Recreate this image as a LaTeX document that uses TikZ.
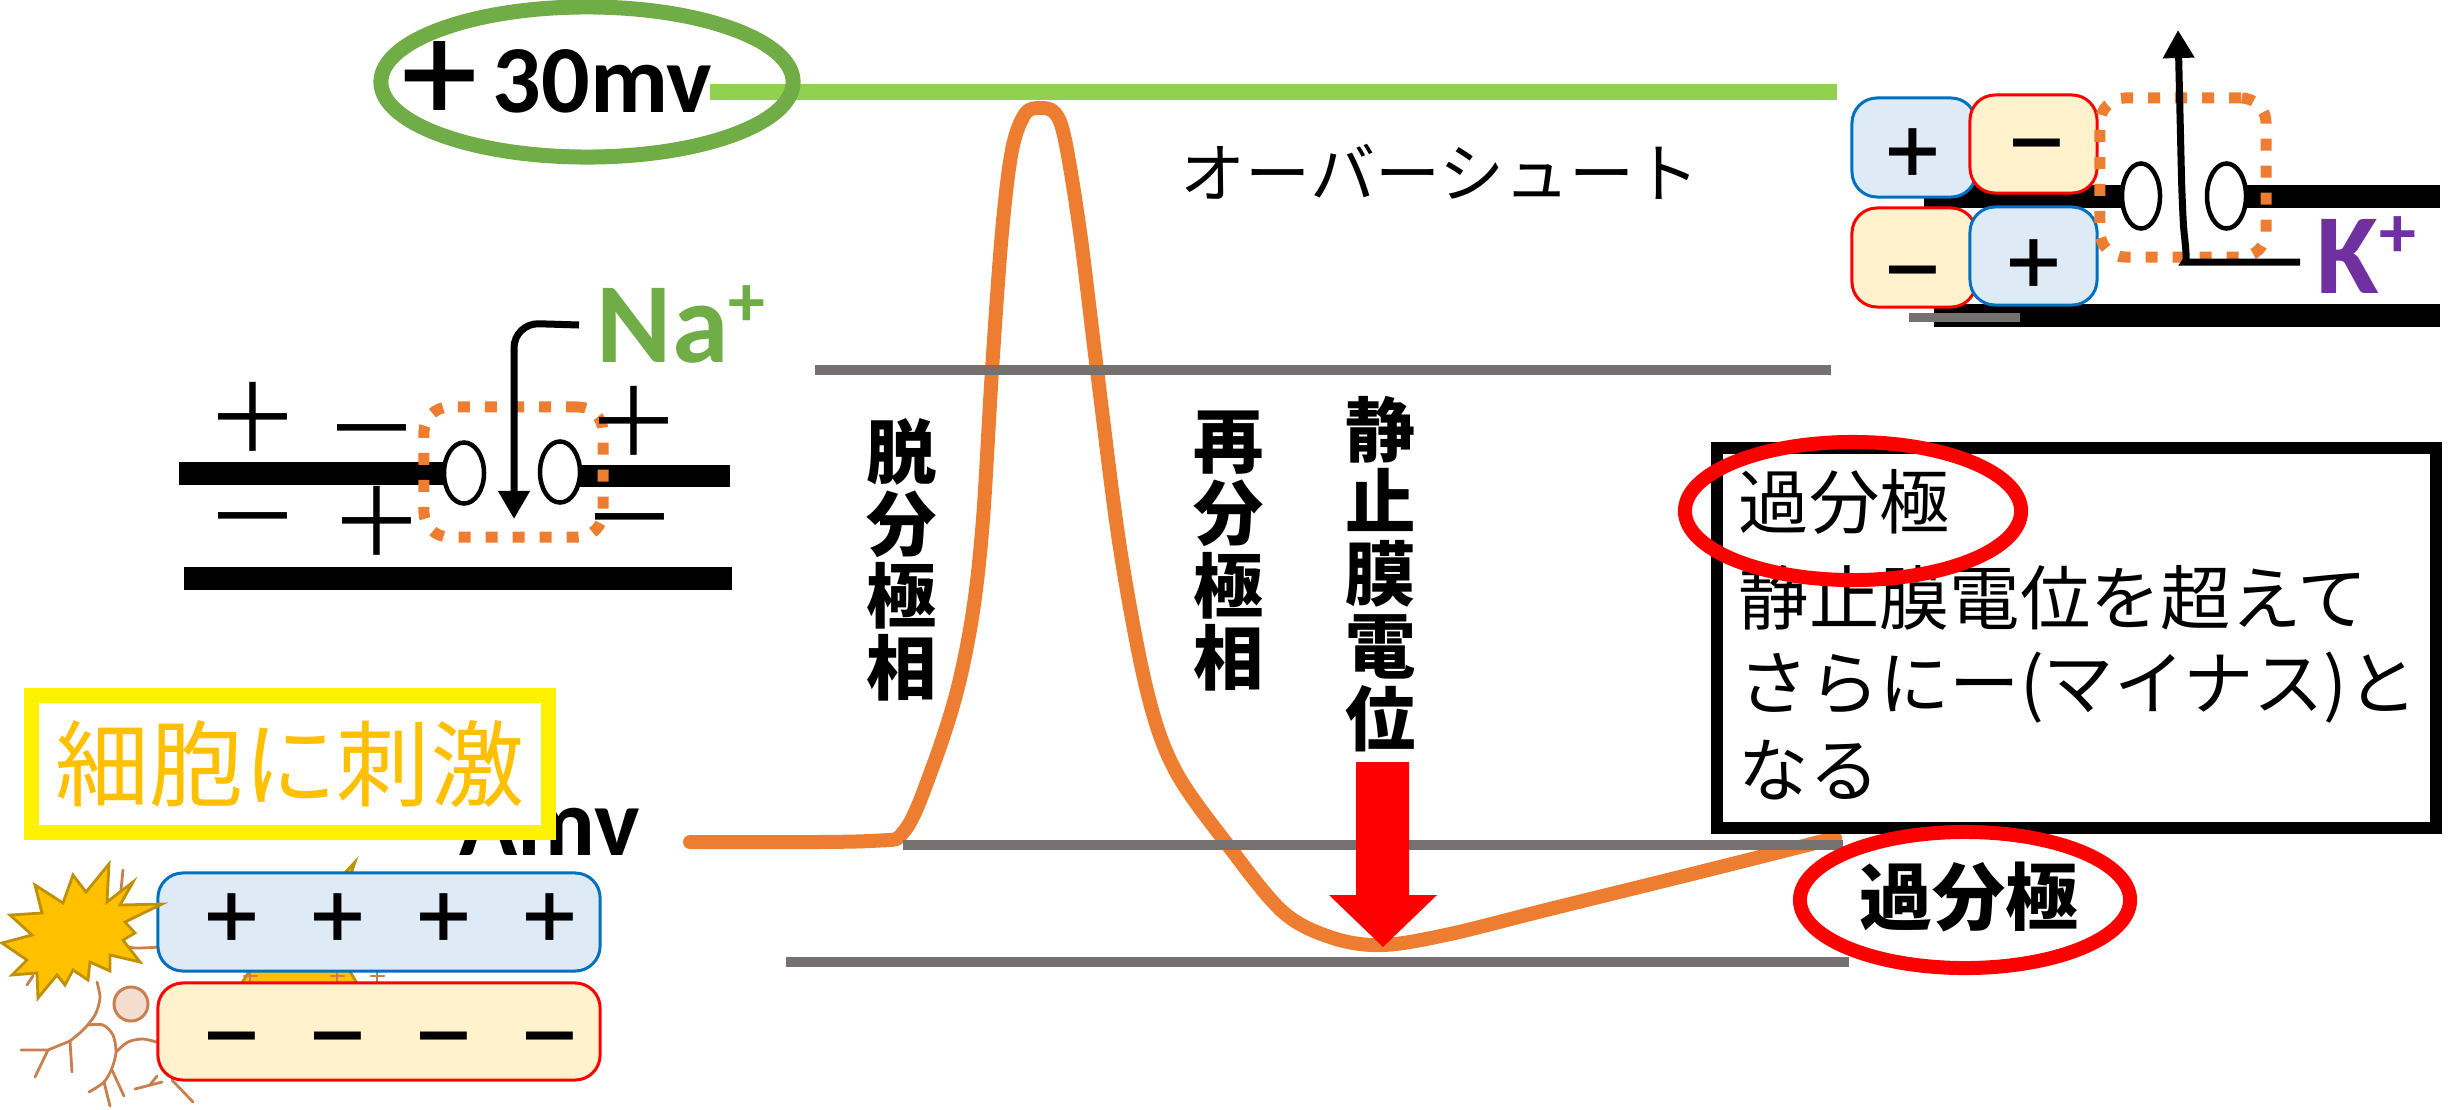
\documentclass[tikz,border=0pt]{standalone}
\usepackage{fontspec}
\usetikzlibrary{arrows.meta,shapes.geometric}
\newfontfamily\jpfont{Noto Sans CJK JP}
\newfontfamily\latfont{Carlito}
\definecolor{curveorange}{HTML}{ED7D31}
\definecolor{levelgray}{HTML}{767171}
\definecolor{peakgreen}{HTML}{92D050}
\definecolor{ringgreen}{HTML}{70AD47}
\definecolor{kpurple}{HTML}{7030A0}
\definecolor{posfill}{HTML}{DEEBF7}
\definecolor{posedge}{HTML}{0070C0}
\definecolor{negfill}{HTML}{FFF2CC}
\definecolor{stimgold}{HTML}{FFC000}
\definecolor{stimedge}{HTML}{BF9000}
\definecolor{nervebrown}{HTML}{C98050}
\definecolor{somafill}{HTML}{F2DDD0}
\begin{document}
\begin{tikzpicture}[x=0.01cm,y=-0.01cm,
  level/.style={levelgray,line width=1mm},
  membrane/.style={fill=black},
  channel/.style={draw=black,fill=white,line width=0.45mm,ellipse,inner sep=0pt},
  gate/.style={draw=curveorange,line width=1.1mm,dash pattern=on 1.2mm off 1.5mm,rounded corners=2.5mm},
  ionarrow/.style={line width=0.7mm,-{Triangle[width=3mm,length=2.8mm]},rounded corners=2.5mm},
  posbox/.style={fill=posfill,draw=posedge,line width=0.3mm,rounded corners=2.5mm,inner sep=0pt},
  negbox/.style={fill=negfill,draw=red,line width=0.3mm,rounded corners=2.5mm,inner sep=0pt},
  bigsign/.style={font=\jpfont\fontsize{27}{27}\selectfont,inner sep=0pt,text height=0.75em,text depth=0pt,yshift=-1.6mm},
  smallsign/.style={font=\jpfont\bfseries\fontsize{19}{19}\selectfont,inner sep=0pt,text height=0.75em,text depth=0pt,yshift=-1.1mm},
  phase/.style={font=\jpfont\bfseries\fontsize{20}{20.5}\selectfont,align=center,inner sep=0pt},
  boxline/.style={font=\jpfont\fontsize{20}{20}\selectfont,anchor=west,inner sep=0pt},
  volt/.style={font=\latfont\bfseries\fontsize{27.3}{27.3}\selectfont,anchor=base west,inner sep=0pt},
  ion/.style={font=\latfont\bfseries\fontsize{32.5}{32.5}\selectfont,anchor=base west,inner sep=0pt,text depth=0pt},
  nerve/.style={nervebrown,line width=0.28mm,line cap=round},
  burst/.style={fill=stimgold,draw=stimedge,line width=0.28mm,line join=miter},
  redring/.style={draw=red,line width=1.4mm,ellipse,inner sep=0pt}]
\useasboundingbox (0,0) rectangle (2458,1109);
\fill[white] (0,0) rectangle (2458,1109);

% ---------- neuron sketch and stimulus ----------
\draw[burst,shift={(300,955)}] (-59.4:108)
  \foreach \k in {1,...,23} {-- ({-59.4+15*\k}:{ifthenelse(mod(\k,2)==0,72,50)})} -- cycle;
\node[circle,draw=nervebrown,fill=somafill,line width=0.3mm,minimum size=0.34cm,inner sep=0pt] (soma) at (131,1004) {};
\draw[nerve] plot[smooth] coordinates {(97,982) (100,998) (95,1015) (83,1030) (70,1041)};
\draw[nerve] (70,1041) -- (48,1050) -- (21,1050);
\draw[nerve] (70,1041) -- (72,1072);
\draw[nerve] (48,1050) -- (35,1077);
\draw[nerve] plot[smooth] coordinates {(88,1025) (103,1025) (113,1035) (116,1052) (112,1068) (104,1082) (89,1092)};
\draw[nerve] (104,1082) -- (110,1106);
\draw[nerve] (112,1070) -- (124,1096);
\draw[nerve] plot[smooth] coordinates {(116,1052) (128,1042) (143,1039) (160,1043)};
\draw[nerve] (135,1089) -- (162,1082);
\draw[nerve] (150,1085) -- (157,1076);
\draw[nerve] (172,1080) -- (193,1102);
\draw[nerve] (123,870) -- (120,900);
\draw[nerve] (133,882) -- (126,893);
\draw[nerve] plot[smooth] coordinates {(118,945) (135,948) (160,947)};
\draw[nerve] (33,976) -- (27,985);
\draw[nerve] (250,970) -- (250,984) (244,976) -- (257,976);
\draw[nerve] (337,970) -- (337,984) (331,976) -- (344,976);
\draw[nerve] (377,970) -- (377,984) (371,976) -- (384,976);

\node[posbox,minimum width=4.42cm,minimum height=0.98cm] (outerside) at (379,922) {};
\node[negbox,minimum width=4.42cm,minimum height=0.97cm] (innerside) at (379,1031.5) {};
\node[smallsign] (plusrow) at (391,918) {＋\hspace{0.39cm}＋\hspace{0.39cm}＋\hspace{0.39cm}＋};
\node[smallsign] (minusrow) at (391,1037) {－\hspace{0.39cm}－\hspace{0.39cm}－\hspace{0.39cm}－};

\draw[burst] (109,864) -- (107,902) -- (133,882) -- (120,905) -- (162,904) -- (125,922)
  -- (135,933) -- (123,940) -- (140,962) -- (110,955) -- (110,971) -- (90,962)
  -- (88,980) -- (73,970) -- (65,985) -- (57,975) -- (38,998) -- (37,973)
  -- (12,975) -- (27,960) -- (2,943) -- (32,935) -- (10,915) -- (42,913)
  -- (35,885) -- (63,903) -- (73,875) -- (86,892) -- cycle;

% ---------- resting level label and stimulus banner ----------
\node[volt] (restlabel) at (459,855) {Amv};
\node[draw=yellow,fill=white,line width=1.5mm,minimum width=5.16cm,minimum height=1.36cm,
  font=\jpfont\fontsize{26.7}{26.7}\selectfont,text=stimgold,inner sep=0pt] (stimulus) at (290,764) {細胞に刺激};

% ---------- action potential trace ----------
\draw[curveorange,line width=1.4mm,line cap=round,line join=round] plot[smooth,tension=0.55] coordinates {
  (690,842) (870,841) (905,830) (933,766) (957,691) (973,611) (983,519) (992,370)
  (1002,232) (1012,150) (1025,114) (1040,108) (1055,113) (1065,140) (1080,232)
  (1097,370) (1120,548) (1147,691) (1175,770) (1227,844) (1283,912) (1333,938)
  (1383,945) (1450,934) (1550,909) (1700,872) (1835,838)};

\coordinate (thL) at (815,370);   \coordinate (thR) at (1831,370);
\coordinate (rpL) at (903,845);   \coordinate (rpR) at (1843,845);
\coordinate (hpL) at (786,962);   \coordinate (hpR) at (1849,962);
\draw[level] (thL) -- (thR);
\draw[level] (rpL) -- (rpR);
\draw[level] (hpL) -- (hpR);

\coordinate (pkL) at (710,92); \coordinate (pkR) at (1837,92);
\draw[peakgreen,line width=1.6mm] (pkL) -- (pkR);
\node[draw=ringgreen,ellipse,line width=1.5mm,minimum width=4.12cm,minimum height=1.5cm,inner sep=0pt] (peakring) at (587,82) {};
\node[font=\jpfont\bfseries\fontsize{28}{28}\selectfont,inner sep=0pt] (peakplus) at (440,78) {＋};
\node[volt] (peakvalue) at (492,112) {30mv};

% ---------- Na+ channel ----------
\fill[membrane] (179,462) rectangle (452,485);
\fill[membrane] (566,465) rectangle (730,487);
\fill[membrane] (184,567) rectangle (732,590);
\node[channel,minimum width=0.4cm,minimum height=0.61cm] (naL) at (464,473) {};
\node[channel,minimum width=0.4cm,minimum height=0.61cm] (naR) at (560,472) {};
\node[gate,minimum width=1.79cm,minimum height=1.3cm] (nagate) at (513.5,472) {};
\node[bigsign] (na1) at (253,423) {＋};
\node[bigsign] (na2) at (372,434) {－};
\node[bigsign] (na3) at (634,427) {＋};
\node[bigsign] (na4) at (253,522) {－};
\node[bigsign] (na5) at (377,527) {＋};
\node[bigsign] (na6) at (630,523) {－};
\node[ion,text=ringgreen] (naion) at (596,362) {Na\raisebox{10pt}{\fontsize{21}{21}\selectfont +}};
\coordinate (naStart) at (579,325);
\coordinate (naEnd) at (514,519);
\draw[ionarrow] (naStart) -- (514,323) -- (naEnd);

% ---------- K+ channel ----------
\fill[membrane] (1924,185) rectangle (2128,208);
\fill[membrane] (2240,185) rectangle (2440,208);
\fill[membrane] (1934,304) rectangle (2440,327);
\fill[levelgray] (1909,313) rectangle (2020,322);
\node[posbox,minimum width=1.24cm,minimum height=0.99cm] (kb1) at (1914,147.5) {};
\node[negbox,minimum width=1.27cm,minimum height=0.98cm] (kb2) at (2033.5,144) {};
\node[negbox,minimum width=1.24cm,minimum height=0.99cm] (kb3) at (1914,257.5) {};
\node[posbox,minimum width=1.27cm,minimum height=0.98cm] (kb4) at (2033.5,256) {};
\node[smallsign] (ks1) at (1913,153) {＋};
\node[smallsign] (ks2) at (2037,144) {－};
\node[smallsign] (ks3) at (1913,271) {－};
\node[smallsign] (ks4) at (2034,264) {＋};
\node[channel,minimum width=0.38cm,minimum height=0.65cm] (kL) at (2141,196) {};
\node[channel,minimum width=0.39cm,minimum height=0.65cm] (kR) at (2226.5,196) {};
\node[gate,minimum width=1.66cm,minimum height=1.59cm] (kgate) at (2183,177.5) {};
\coordinate (kStart) at (2300,262);
\coordinate (kEnd) at (2178,30);
\draw[ionarrow] (kStart) -- (2210,262) .. controls (2188,262) and (2184,235) .. (2182,200) -- (kEnd);
\node[ion,text=kpurple] (kion) at (2316,293) {K\raisebox{10pt}{\fontsize{21}{21}\selectfont +}};

% ---------- phase labels ----------
\node[font=\jpfont\fontsize{18.5}{18.5}\selectfont,inner sep=0pt] (overshoot) at (1440,172) {オーバーシュート};
\node[phase] (depol) at (902,560) {脱\\分\\極\\相};
\node[phase] (repol) at (1229,551) {再\\分\\極\\相};
\node[phase] (resting) at (1381,574) {静\\止\\膜\\電\\位};
\draw[fill=red,draw=none] (1356,762) -- (1409,762) -- (1409,895) -- (1437,895) -- (1383,947)
  -- (1329,895) -- (1356,895) -- cycle;

% ---------- hyperpolarisation note ----------
\node[draw=black,fill=white,line width=1.2mm,minimum width=7.19cm,minimum height=3.8cm,inner sep=0pt] (note) at (2076.5,638) {};
\node[boxline] (n1) at (1738,502) {過分極};
\node[boxline] (n2) at (1738,598) {静止膜電位を超えて};
\node[boxline] (n3) at (1738,688) {さらにー(マイナス)と};
\node[boxline] (n4) at (1738,770) {なる};
\node[redring,minimum width=3.36cm,minimum height=1.38cm] (ringtop) at (1853,511) {};
\node[redring,minimum width=3.3cm,minimum height=1.36cm] (ringbottom) at (1965,900) {};
\node[font=\jpfont\bfseries\fontsize{20.8}{20.8}\selectfont,inner sep=0pt] (hyper) at (1969,897) {過分極};
\end{tikzpicture}
\end{document}
